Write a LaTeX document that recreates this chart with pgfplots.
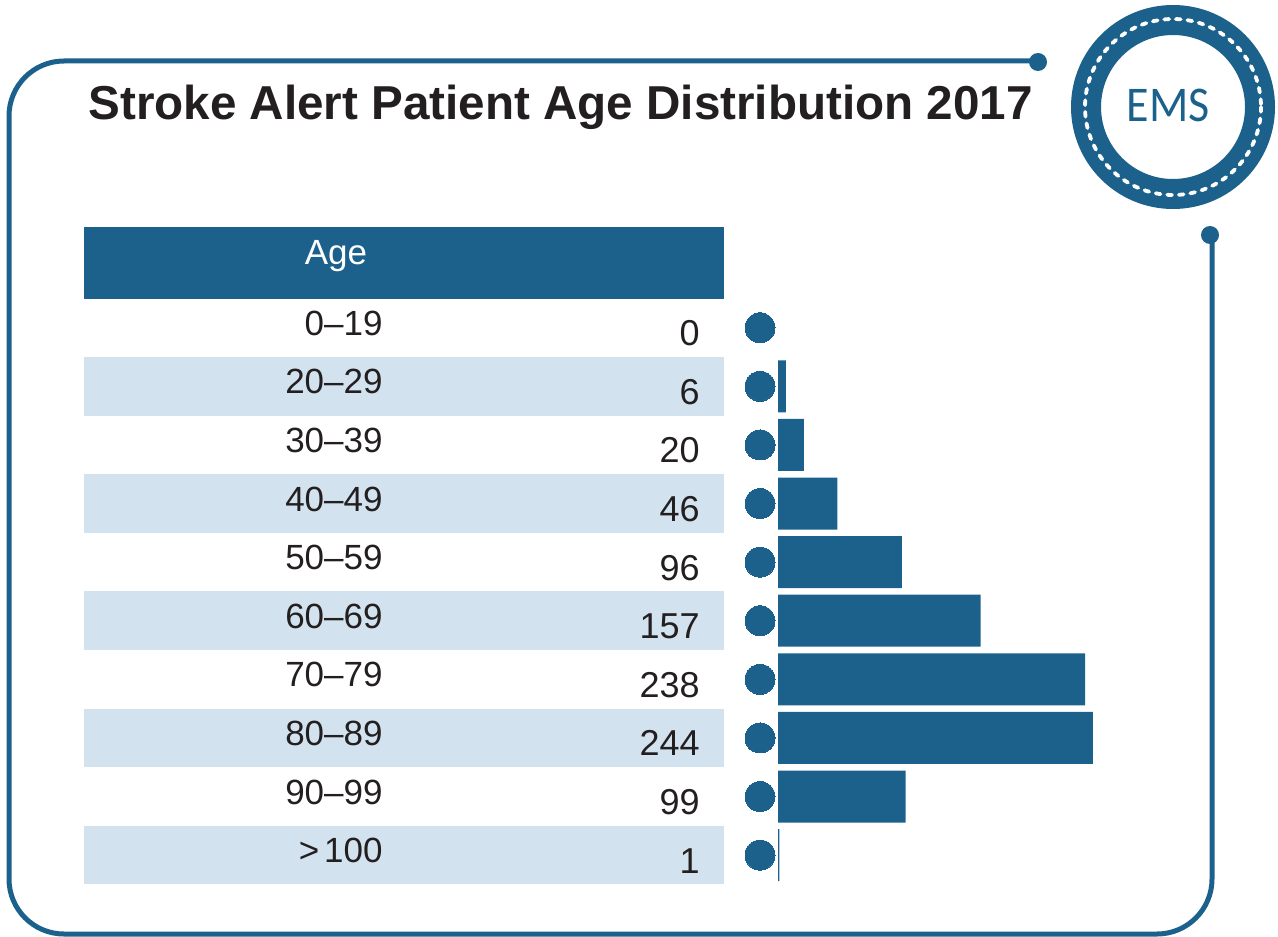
\documentclass[border=0pt]{standalone}
\usepackage{pgfplots}
\pgfplotsset{compat=1.18}
\usepackage{pgfplotstable}
\usepackage{fontspec}
\setmainfont{Liberation Sans}
\newfontfamily\emsfont{Carlito}
\definecolor{emsblue}{RGB}{27,97,139}
\definecolor{bandblue}{RGB}{210,227,239}
\definecolor{txt}{RGB}{35,31,32}

\pgfplotstableread[col sep=semicolon]{
idx;age;count
0;0–19;0
1;20–29;6
2;30–39;20
3;40–49;46
4;50–59;96
5;60–69;157
6;70–79;238
7;80–89;244
8;90–99;99
9;>\kern2.5pt100;1
}\agedata

\begin{document}
\begin{tikzpicture}
\begin{scope}[x=0.5pt,y=-0.5pt]
  % header and bands
  \fill[emsblue] (84,227) rectangle (724,299);
  \foreach \i in {1,3,5,7,9} {
    \fill[bandblue] (84,{298.4+58.6*\i}) rectangle (724,{298.4+58.6*(\i+1)});
  }
  % frame
  \draw[emsblue, line width=2.5pt, rounded corners=27.5pt]
    (1038,61) -- (9,61) -- (9,934) -- (1212,934) -- (1212,235);
  \fill[emsblue] (1038,62) circle[radius=9];
  \fill[emsblue] (1210,235) circle[radius=9];
  % badge
  \draw[emsblue, line width=15pt] (1173,107) circle[radius=87];
  \draw[white, line width=1.9pt, dash pattern=on 2.4pt off 3.4pt, line cap=round] (1173,107) circle[radius=88];
  \node[text=emsblue, font=\emsfont\fontsize{25}{30}\selectfont, inner sep=0pt, xscale=0.92] at (1168,105) {EMS};
  % title
  \node[anchor=base west, text=txt, font=\bfseries\fontsize{23.8}{28}\selectfont, inner sep=0pt] at (88,120) {Stroke Alert Patient Age Distribution 2017};
  \node[anchor=base, text=white, font=\fontsize{17.5}{21}\selectfont, inner sep=0pt] at (336,264) {Age};
\end{scope}
\begin{axis}[at={(0,0)}, anchor=north west, scale only axis,
  width=639pt, height=468pt,
  xmin=-603.10, xmax=387.60, ymin=-5.5922, ymax=10.3805,
  y dir=reverse, hide axis, clip=false]
  \addplot[xbar, fill=emsblue, draw=none, bar width=26pt,
    x filter/.expression={x==0 ? nan : x}]
    table[x=count, y=idx] {\agedata};
  \addplot[only marks, color=emsblue, mark=*, mark size=7.5pt, mark options={draw=emsblue, fill=emsblue, line width=0pt}]
    table[x expr=-13.95, y=idx] {\agedata};
  \addplot[draw=none, nodes near coords, point meta=explicit symbolic,
    every node near coord/.style={anchor=base east, inner sep=0pt, yshift=-9pt, text=txt, font=\fontsize{18}{21}\selectfont}]
    table[x expr=-60.47, y=idx, meta=count] {\agedata};
  \addplot[draw=none, nodes near coords, point meta=explicit symbolic,
    every node near coord/.style={anchor=base east, inner sep=0pt, yshift=-3.75pt, text=txt, font=\fontsize{17.5}{21}\selectfont}]
    table[x expr=-306.2, y=idx, meta=age] {\agedata};
\end{axis}
\pgfresetboundingbox
\useasboundingbox (0,0) rectangle (639pt,-468pt);
\end{tikzpicture}
\end{document}
